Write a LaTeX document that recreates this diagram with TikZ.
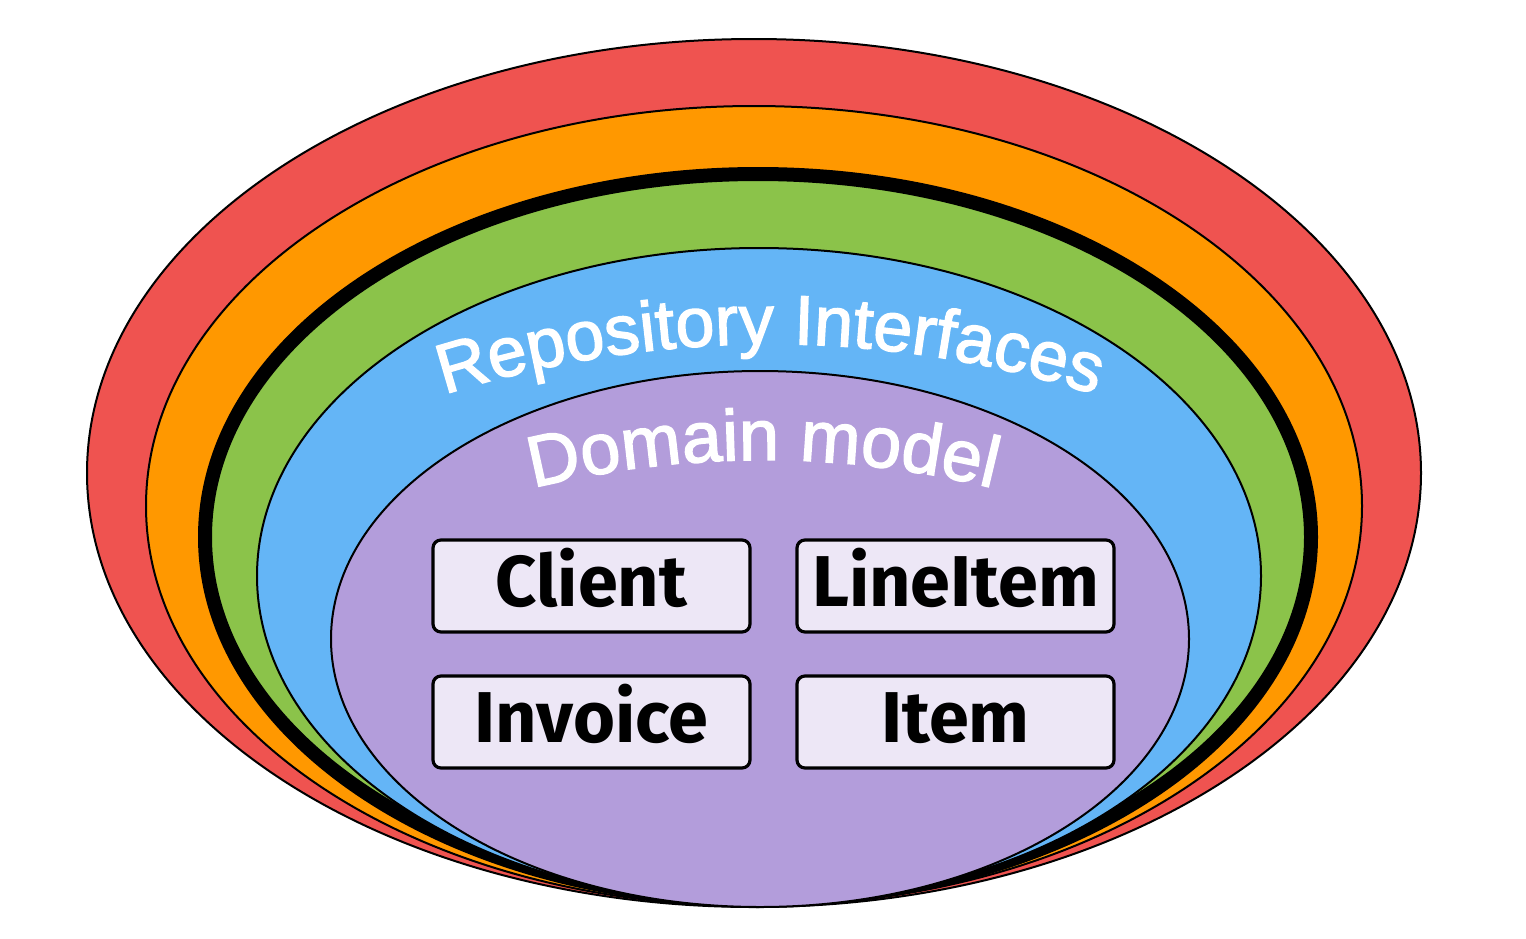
\documentclass[tikz,border=0pt]{standalone}
\usepackage{fontspec}
\setmainfont{Fira Sans}
\newfontfamily\arcfont{Liberation Sans}[FakeBold=2]
\newfontfamily\boxfont{Fira Sans}
\usetikzlibrary{decorations.text}
\definecolor{cred}{HTML}{EF5350}
\definecolor{corange}{HTML}{FF9800}
\definecolor{cgreen}{HTML}{8BC34A}
\definecolor{cblue}{HTML}{64B5F6}
\definecolor{cpurple}{HTML}{B39DDB}
\definecolor{cbox}{HTML}{EDE7F6}
\tikzset{
  ring/.style={draw=black, line width=1pt},
  classbox/.style={draw=black, line width=1.6pt, fill=cbox, rounded corners=4pt,
    minimum width=158.5pt, minimum height=46pt, inner sep=0pt,
    text height=25pt, text depth=5pt,
    font=\boxfont\bfseries\fontsize{36}{40}\selectfont},
  arctext/.style={decorate, decoration={text along path, text align=center, text color=white}}
}
\begin{document}
\begin{tikzpicture}[x=0.5pt,y=-0.5pt]
\useasboundingbox (0,0) rectangle (1526,938);
% layers
\path[ring, fill=cred] (754,473) ellipse [x radius=667, y radius=434];
\path[ring, fill=corange] (754,506) ellipse [x radius=608, y radius=400];
\path[draw=black, line width=7pt, fill=cgreen] (758,537) ellipse [x radius=553, y radius=363];
\path[ring, fill=cblue] (759,576) ellipse [x radius=502, y radius=328];
\path[ring, fill=cpurple] (760,639) ellipse [x radius=429, y radius=268];
% curved labels
\path[arctext, decoration={text={|\arcfont\fontsize{35}{40}\selectfont|Repository Interfaces}}]
  (770,1417) ++(-125:1073) arc [start angle=-125, end angle=-55, radius=1073];
\path[arctext, decoration={text={|\arcfont\fontsize{36}{40}\selectfont|Domain model}}]
  (763,1417) ++(-125:957) arc [start angle=-125, end angle=-55, radius=957];
% classes
\node[classbox] (client) at (591.5,586) {Client};
\node[classbox] (lineitem) at (955.5,586) {LineItem};
\node[classbox] (invoice) at (591.5,722) {Invoice};
\node[classbox] (item) at (955.5,722) {Item};
\end{tikzpicture}
\end{document}
